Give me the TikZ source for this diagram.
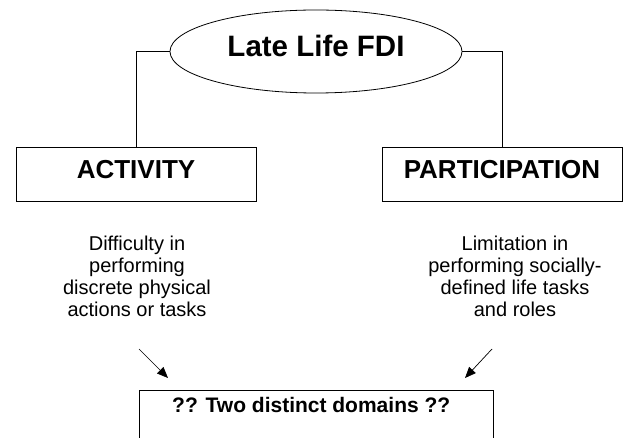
\documentclass[tikz,border=0pt]{standalone}
\usepackage{fontspec}
\setmainfont{Liberation Sans}
\usetikzlibrary{shapes.geometric,arrows.meta}
\begin{document}
\begin{tikzpicture}[x=1pt,y=-1pt,
  every node/.style={inner sep=0pt},
  box/.style={draw=black,line width=0.8pt,minimum width=240pt,minimum height=54pt,
    font=\fontsize{26}{30}\selectfont\bfseries,text height=18.6pt,text depth=10pt},
  desc/.style={font=\fontsize{20}{22}\selectfont,align=center,anchor=north},
  arr/.style={line width=0.7pt,-{Triangle[length=11pt,width=9pt]}},
  conn/.style={line width=0.8pt}]
\useasboundingbox (0,0) rectangle (623,438);
\clip (0,0) rectangle (623,438);
\node[ellipse,draw=black,line width=0.8pt,minimum width=292pt,minimum height=83pt,
  font=\fontsize{29.5}{32}\selectfont\bfseries,text height=21.1pt,text depth=12pt]
  (title) at (316,51.5) {Late Life FDI};
\node[box] (act) at (136,174) {ACTIVITY};
\node[box] (part) at (502,174) {PARTICIPATION};
\draw[conn] (title.west) -| (act.north);
\draw[conn] (title.east) -| (part.north);
\node[desc] (actdesc) at (137,235.4) {Difficulty in\\performing\\discrete physical\\actions or tasks};
\node[desc] (partdesc) at (515,235.4) {Limitation in\\performing socially-\\defined life tasks\\and roles};
\node[draw=black,line width=0.8pt,anchor=north west,minimum width=354pt,minimum height=80pt] (dom) at (139,390) {};
\node[font=\fontsize{21}{24}\selectfont\bfseries,anchor=base west] (domtxt) at (172,412.5) {?? Two distinct domains ??};
\coordinate (la1) at (139,349);
\coordinate (la2) at (168,378);
\coordinate (ra1) at (492,349);
\coordinate (ra2) at (465,378);
\draw[arr] (la1) -- (la2);
\draw[arr] (ra1) -- (ra2);
\end{tikzpicture}
\end{document}
